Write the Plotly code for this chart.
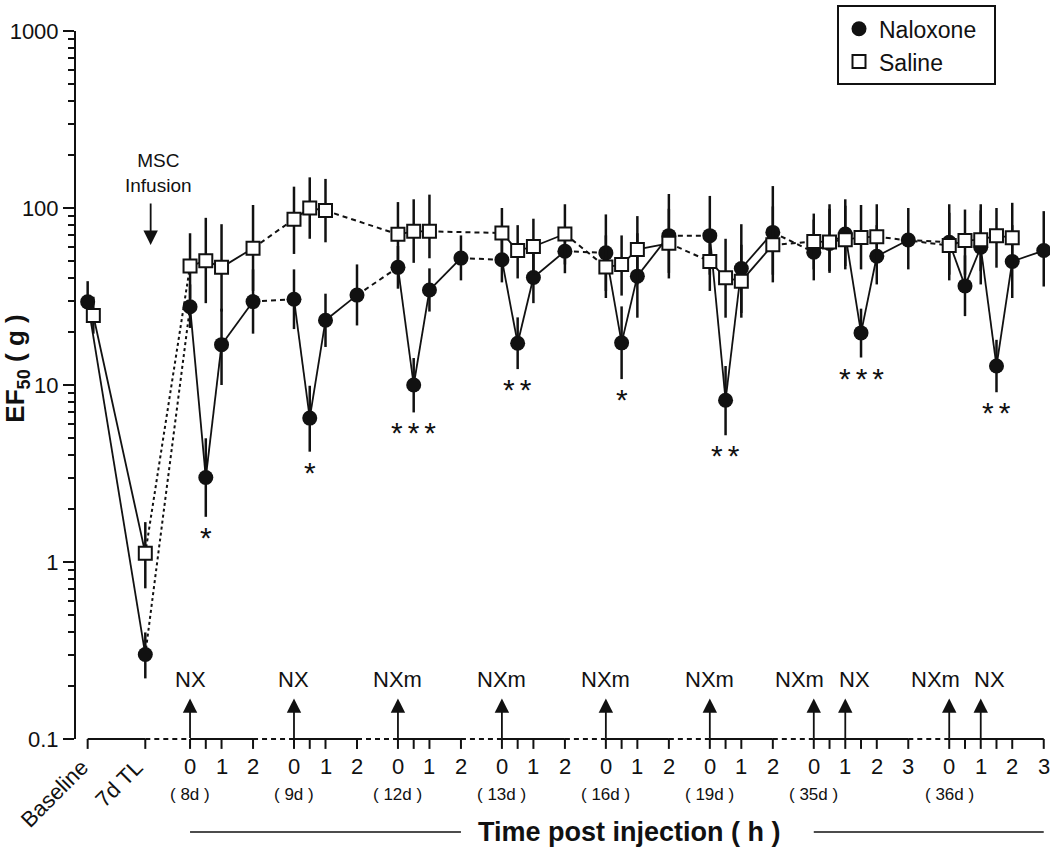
import math
import plotly.graph_objects as go

# ---------------- data ----------------
segment_days = ["8d", "9d", "12d", "13d", "16d", "19d", "35d", "36d"]
segment_span_h = [2, 2, 2, 2, 2, 2, 3, 3]
segment_ticks_h = [[0, 0.5, 1, 2], [0, 0.5, 1, 2], [0, 0.5, 1, 2], [0, 0.5, 1, 2],
                   [0, 0.5, 1, 2], [0, 0.5, 1, 2], [0, 0.5, 1, 1.5, 2, 3], [0, 0.5, 1, 1.5, 2, 3]]
segment_ticklabels_h = [[0, 1, 2], [0, 1, 2], [0, 1, 2], [0, 1, 2],
                        [0, 1, 2], [0, 1, 2], [0, 1, 2, 3], [0, 1, 2, 3]]
pre_labels = ["Baseline", "7d TL"]

injection_day = ["8d", "9d", "12d", "13d", "16d", "19d", "35d", "35d", "36d", "36d"]
injection_hour = [0, 0, 0, 0, 0, 0, 0, 1, 0, 1]
injection_drug = ["NX", "NX", "NXm", "NXm", "NXm", "NXm", "NXm", "NX", "NXm", "NX"]

# Naloxone group (filled circles)
nal_day = ["Baseline", "7d TL",
           "8d", "8d", "8d", "8d",
           "9d", "9d", "9d", "9d",
           "12d", "12d", "12d", "12d",
           "13d", "13d", "13d", "13d",
           "16d", "16d", "16d", "16d",
           "19d", "19d", "19d", "19d",
           "35d", "35d", "35d", "35d", "35d", "35d",
           "36d", "36d", "36d", "36d", "36d", "36d"]
nal_hour = [0, 0,
            0, 0.5, 1, 2,
            0, 0.5, 1, 2,
            0, 0.5, 1, 2,
            0, 0.5, 1, 2,
            0, 0.5, 1, 2,
            0, 0.5, 1, 2,
            0, 0.5, 1, 1.5, 2, 3,
            0, 0.5, 1, 1.5, 2, 3]
nal_mean = [29.5, 0.30,
            27.7, 3.0, 16.9, 29.6,
            30.5, 6.5, 23.2, 32.2,
            46.2, 10.0, 34.4, 52.1,
            51.0, 17.2, 40.5, 57.0,
            55.8, 17.3, 41.2, 69.8,
            69.8, 8.2, 45.5, 72.8,
            56.3, 63.0, 71.3, 19.7, 53.4, 66.0,
            64.0, 36.3, 60.0, 12.8, 49.9, 57.5]
nal_hi = [38.6, 0.40,
          37, 5.0, 27, 45,
          45, 9.9, 32.8, 48,
          61, 14.2, 45.6, 70,
          67, 24.1, 57, 76,
          92, 27.8, 72, 120,
          117, 12.8, 81, 133,
          86, 99, 112, 27, 80, 100,
          105, 54, 97, 18, 80, 96]
nal_lo = [23.1, 0.22,
          21, 1.8, 10, 19.5,
          20.7, 4.2, 16.4, 21.7,
          35, 7.0, 26, 39,
          38, 12.3, 29, 42.8,
          34, 10.8, 24, 40,
          42, 5.2, 25.5, 42,
          39, 43, 47, 14.3, 37, 45,
          39, 24.5, 37, 9.1, 31, 36]

# Saline group (open squares)
sal_day = ["Baseline", "7d TL",
           "8d", "8d", "8d", "8d",
           "9d", "9d", "9d",
           "12d", "12d", "12d",
           "13d", "13d", "13d", "13d",
           "16d", "16d", "16d", "16d",
           "19d", "19d", "19d", "19d",
           "35d", "35d", "35d", "35d", "35d",
           "36d", "36d", "36d", "36d", "36d"]
sal_hour = [0, 0,
            0, 0.5, 1, 2,
            0, 0.5, 1,
            0, 0.5, 1,
            0, 0.5, 1, 2,
            0, 0.5, 1, 2,
            0, 0.5, 1, 2,
            0, 0.5, 1, 1.5, 2,
            0, 0.5, 1, 1.5, 2]
sal_mean = [24.7, 1.12,
            47.0, 50.4, 46.2, 59.3,
            86.5, 100.0, 96.7,
            71.0, 73.8, 73.8,
            72.2, 57.5, 60.6, 71.3,
            46.4, 47.9, 58.3, 63.2,
            49.9, 40.3, 38.6, 61.9,
            64.6, 64.3, 66.2, 68.2, 68.9,
            61.4, 65.5, 66.2, 69.8, 68.0]
sal_hi = [31.5, 1.68,
          72, 88, 81, 104,
          132, 149, 146,
          108, 112, 119,
          100, 80, 87, 105,
          70, 70, 90, 99,
          73, 67, 62, 102,
          93, 105, 103, 104, 105,
          94, 98, 105, 100, 107]
sal_lo = [19.5, 0.71,
          30.7, 29, 26, 34,
          55, 67, 64,
          46, 49, 52,
          52, 40, 42, 48,
          31, 32, 37, 43,
          34, 24, 24, 38,
          45, 44, 45, 45, 47,
          42, 42, 44, 46, 46]

# significance marks (Naloxone vs Saline)
sig_day = ["8d", "9d", "12d", "13d", "16d", "19d", "35d", "36d"]
sig_hour = [0.5, 0.5, 0.5, 0.5, 0.5, 0.5, 1.5, 1.5]
sig_stars = ["*", "*", "***", "**", "*", "**", "***", "**"]

# ---------------- layout helpers ----------------
W, H = 1050, 849
PX_L, PX_R, PX_T, PX_B = 76, 1045, 24, 739
GAP_H = 1.3
PRE_POS = {"Baseline": -3.25, "7d TL": -1.42}
SAL_BASE_JITTER = 0.18
MSC_POS = -1.25
FONT = "Liberation Sans, Arial, Helvetica, sans-serif"
BLACK = "#111111"

seg_offset = {}
acc = 0.0
for d, span in zip(segment_days, segment_span_h):
    seg_offset[d] = acc
    acc += span + GAP_H


def xpos(day, hour):
    if day in PRE_POS:
        return PRE_POS[day]
    return seg_offset[day] + hour


def py(px):
    return (PX_B - px) / (PX_B - PX_T)


X_RANGE = [-3.62, 27.14]

fig = go.Figure()


def add_lines(days, hours, vals, jitter):
    xs = [xpos(d, h) + (jitter if d == "Baseline" else 0) for d, h in zip(days, hours)]
    groups = {"solid": ([], []), "dash": ([], []), "dot": ([], [])}
    for i in range(len(xs) - 1):
        d0, d1 = days[i], days[i + 1]
        if d0 == d1 or (d0 == "Baseline" and d1 == "7d TL"):
            st = "solid"
        elif d0 == "7d TL":
            st = "dot"
        else:
            st = "dash"
        gx, gy = groups[st]
        gx += [xs[i], xs[i + 1], None]
        gy += [vals[i], vals[i + 1], None]
    dashes = {"solid": "solid", "dash": "5px,4px", "dot": "3px,3px"}
    widths = {"solid": 1.8, "dash": 2.0, "dot": 2.0}
    for st, (gx, gy) in groups.items():
        fig.add_trace(go.Scatter(x=gx, y=gy, mode="lines", showlegend=False, hoverinfo="skip",
                                 line=dict(color=BLACK, width=widths[st], dash=dashes[st])))
    return xs


nal_x = add_lines(nal_day, nal_hour, nal_mean, 0)
sal_x = add_lines(sal_day, sal_hour, sal_mean, SAL_BASE_JITTER)

circle_marker = dict(symbol="circle", size=15, color=BLACK, line=dict(width=0))
square_marker = dict(symbol="square", size=13, color="white", line=dict(width=2, color=BLACK))

fig.add_trace(go.Scatter(
    x=nal_x, y=nal_mean, mode="markers", showlegend=False, cliponaxis=False,
    marker=circle_marker,
    error_y=dict(type="data", symmetric=False,
                 array=[h - m for h, m in zip(nal_hi, nal_mean)],
                 arrayminus=[m - l for m, l in zip(nal_mean, nal_lo)],
                 color=BLACK, thickness=2.5, width=0)))
fig.add_trace(go.Scatter(
    x=sal_x, y=sal_mean, mode="markers", showlegend=False, cliponaxis=False,
    marker=square_marker,
    error_y=dict(type="data", symmetric=False,
                 array=[h - m for h, m in zip(sal_hi, sal_mean)],
                 arrayminus=[m - l for m, l in zip(sal_mean, sal_lo)],
                 color=BLACK, thickness=2.5, width=0)))

# legend-only traces
fig.add_trace(go.Scatter(x=[None], y=[None], mode="markers", name="Naloxone  ", marker=circle_marker))
fig.add_trace(go.Scatter(x=[None], y=[None], mode="markers", name="Saline", marker=square_marker))

shapes = []
annotations = []

# custom broken x axis
axis_line = dict(color=BLACK, width=2)
tick_len = 10 / (PX_B - PX_T)


def hline(x0, x1, dash=None):
    ln = dict(axis_line)
    if dash:
        ln["dash"] = dash
    shapes.append(dict(type="line", xref="x", yref="paper", x0=x0, x1=x1, y0=0, y1=0, line=ln))


def tick(x):
    shapes.append(dict(type="line", xref="x", yref="paper", x0=x, x1=x, y0=0, y1=-tick_len,
                       line=axis_line))


def text_ann(x, y, text, size, xref="x", yref="paper", bold=False, **kw):
    a = dict(x=x, y=y, xref=xref, yref=yref, text=("<b>%s</b>" % text) if bold else text,
             showarrow=False, xanchor="center", yanchor="middle",
             font=dict(size=size, color=BLACK, family=FONT))
    a.update(kw)
    annotations.append(a)


hline(PRE_POS["Baseline"], PRE_POS["7d TL"])
tick(PRE_POS["Baseline"])
tick(PRE_POS["7d TL"])
prev_end = PRE_POS["7d TL"]
for d, span, tks, tls in zip(segment_days, segment_span_h, segment_ticks_h, segment_ticklabels_h):
    start = seg_offset[d]
    hline(prev_end, start, dash="5px,4px")
    hline(start, start + span)
    for t in tks:
        tick(start + t)
    for t in tls:
        text_ann(start + t, py(767), str(t), 22)
    text_ann(start, py(795), "( %s )" % d, 17)
    prev_end = start + span

# rotated pre-injection labels
for lab, xs_ in zip(pre_labels, [8, 5]):
    text_ann(PRE_POS[lab], py(752), lab, 22, textangle=-45, xanchor="right", yanchor="top",
             xshift=xs_)

# injection arrows and labels
for i, (d, h, drug) in enumerate(zip(injection_day, injection_hour, injection_drug)):
    x = seg_offset[d] + h
    annotations.append(dict(x=x, y=py(698), xref="x", yref="paper", text="", showarrow=True,
                            ax=0, ay=41, arrowhead=2, arrowsize=1.6, arrowwidth=1.8,
                            arrowcolor=BLACK))
    n_same = injection_day.count(d)
    shift = 0
    if n_same > 1:
        shift = -14 if injection_day.index(d) == i else 9
    text_ann(x, py(679), drug, 22, xshift=shift)

# MSC infusion
annotations.append(dict(x=MSC_POS, y=py(240), xref="x", yref="paper", text="", showarrow=True,
                        ax=0, ay=-43, arrowhead=2, arrowsize=1.6, arrowwidth=1.8, arrowcolor=BLACK))
text_ann(MSC_POS, py(167), "MSC<br>Infusion", 19, xshift=8, align="center")

# significance stars below the naloxone error bars
for d, h, s in zip(sig_day, sig_hour, sig_stars):
    idx = [i for i in range(len(nal_day)) if nal_day[i] == d and nal_hour[i] == h][0]
    text_ann(xpos(d, h), math.log10(nal_lo[idx]), "\u2006".join(s), 30, yref="y",
             yanchor="top", yshift=-2)

# x title with side rules
left_end = seg_offset["12d"] + 2
right_start = seg_offset["35d"]
title_y = py(833)
shapes.append(dict(type="line", xref="x", yref="paper", x0=seg_offset["8d"], x1=left_end,
                   y0=title_y, y1=title_y, line=dict(color=BLACK, width=1.5)))
shapes.append(dict(type="line", xref="x", yref="paper", x0=right_start,
                   x1=seg_offset["36d"] + segment_span_h[-1],
                   y0=title_y, y1=title_y, line=dict(color=BLACK, width=1.5)))
text_ann((left_end + right_start) / 2, title_y, "Time post injection ( h )", 27, bold=True,
         xshift=-8)

# y title
text_ann((17 - PX_L) / (PX_R - PX_L), py(365), "EF<sub>50</sub> ( g )", 26, xref="paper",
         bold=True, textangle=-90)

minor_vals = [m * 10 ** e for e in range(-1, 3) for m in range(2, 10)]

fig.update_layout(
    width=W, height=H, autosize=False,
    margin=dict(l=PX_L, r=W - PX_R, t=PX_T, b=H - PX_B, pad=0),
    paper_bgcolor="white", plot_bgcolor="white",
    font=dict(family=FONT, color=BLACK),
    xaxis=dict(range=X_RANGE, visible=False, showgrid=False, zeroline=False),
    yaxis=dict(type="log", range=[-1, 3], showline=True, linewidth=2, linecolor=BLACK,
               ticks="outside", ticklen=11, tickwidth=2, tickcolor=BLACK,
               tickmode="array", tickvals=[0.1, 1, 10, 100, 1000],
               ticktext=["0.1", "1", "10", "100", "1000"],
               tickfont=dict(size=22, color=BLACK, family=FONT),
               minor=dict(tickmode="array", tickvals=minor_vals, ticks="outside", ticklen=6,
                          tickwidth=1.5, tickcolor=BLACK, showgrid=False),
               showgrid=False, zeroline=False),
    legend=dict(x=(837 - PX_L) / (PX_R - PX_L), y=py(-2), xanchor="left", yanchor="top",
                bordercolor=BLACK, borderwidth=2, bgcolor="white",
                font=dict(size=23, color=BLACK, family=FONT), itemsizing="trace",
                tracegroupgap=0),
    shapes=shapes, annotations=annotations,
    showlegend=True,
)

fig.write_html("out.html", config={"displayModeBar": False},
               post_script="document.body.style.margin='0';document.body.style.overflow='hidden';")
